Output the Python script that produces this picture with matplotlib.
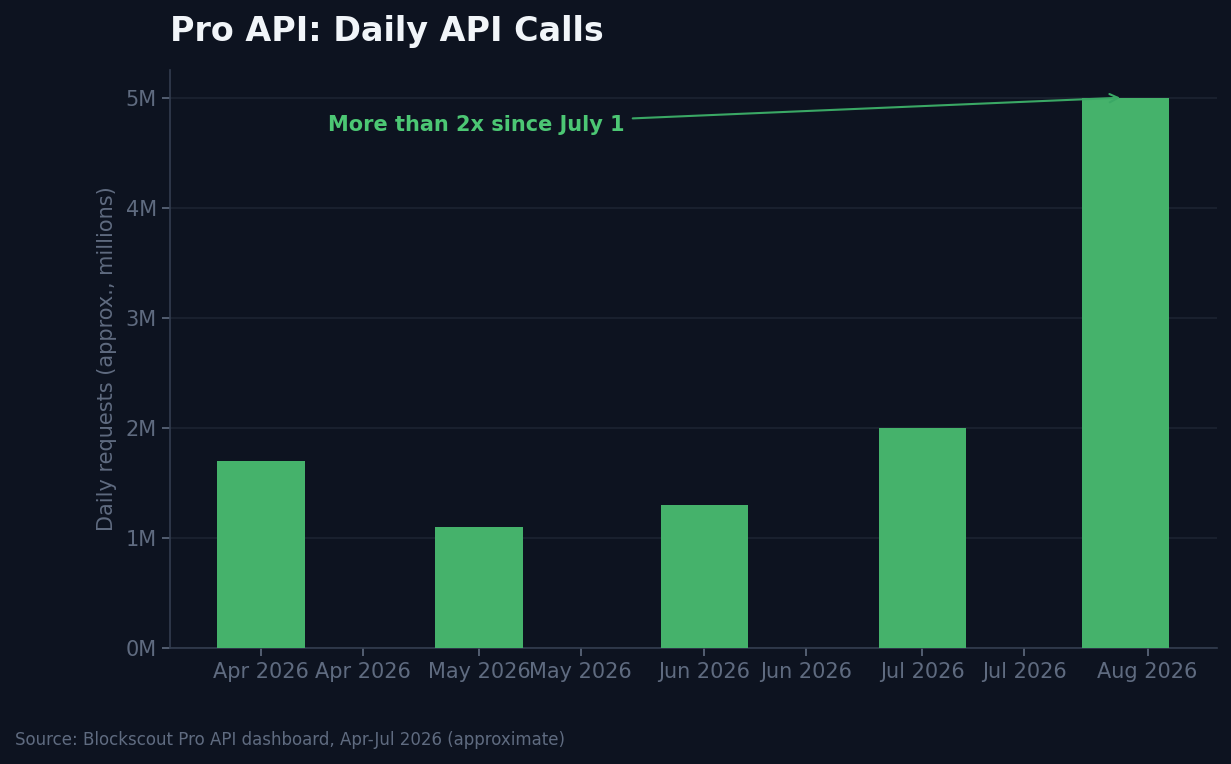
import numpy as np
import pandas as pd
import matplotlib
matplotlib.use("Agg")
import matplotlib.pyplot as plt
import matplotlib.dates as mdates
from matplotlib.ticker import FuncFormatter

# ---------------------------------------------------------------------------
# Data (millions of daily requests)
# ---------------------------------------------------------------------------
dates = pd.to_datetime(["2026-04-01", "2026-05-01", "2026-06-01", "2026-07-01", "2026-07-29"])
calls_m = [1.7, 1.1, 1.3, 2.0, 5.0]

title = "Pro API: Daily API Calls"
y_label = "Daily requests (approx., millions)"
note = "More than 2x since July 1"
source = "Source: Blockscout Pro API dashboard, Apr-Jul 2026 (approximate)"

# colours
BG = "#0d1320"
BAR = "#45b26b"
GRID = "#1c2332"
SPINE = "#333d4f"
MUTED = "#5f6b80"
NOTE = "#4cc774"
ARROW = "#3aa865"

fig = plt.figure(figsize=(12.31, 7.64), dpi=100, facecolor=BG)
ax = fig.add_axes([0.138, 0.152, 0.8506, 0.7564])
ax.set_facecolor(BG)

ax.bar(dates, calls_m, width=12, color=BAR, zorder=3)

# axes styling
ax.xaxis.set_major_locator(mdates.MonthLocator(bymonthday=[1, 15]))
ax.xaxis.set_major_formatter(mdates.DateFormatter("%b %Y"))
ax.yaxis.set_major_formatter(FuncFormatter(lambda v, _: f"{v:.0f}M"))
ax.set_yticks(range(0, 6))

ax.grid(axis="y", color=GRID, linewidth=1.2, zorder=0)
ax.set_axisbelow(True)
for side in ("top", "right"):
    ax.spines[side].set_visible(False)
for side in ("left", "bottom"):
    ax.spines[side].set_color(SPINE)
    ax.spines[side].set_linewidth(1.2)
ax.tick_params(colors=MUTED, labelsize=15, length=6, width=1.2)
ax.tick_params(axis="x", pad=4)
for t in ax.get_xticklabels() + ax.get_yticklabels():
    t.set_color(MUTED)

ax.set_ylabel(y_label, color=MUTED, fontsize=15, labelpad=6.5)

# annotation
ax.annotate(note, xy=(dates[-1], calls_m[-1]),
            xytext=(pd.Timestamp("2026-05-21"), 4.75),
            ha="right", va="center", color=NOTE, fontsize=15, fontweight="bold",
            arrowprops=dict(arrowstyle="->", color=ARROW, lw=1.5,
                            shrinkA=4, shrinkB=4, mutation_scale=15))

fig.text(0.138, 0.959, title, color="#f1f5f9", fontsize=24, fontweight="bold",
         ha="left", va="center")
fig.text(0.012, 0.032, source, color=MUTED, fontsize=12, ha="left", va="center")

fig.savefig("out.png", dpi=100, facecolor=BG)
